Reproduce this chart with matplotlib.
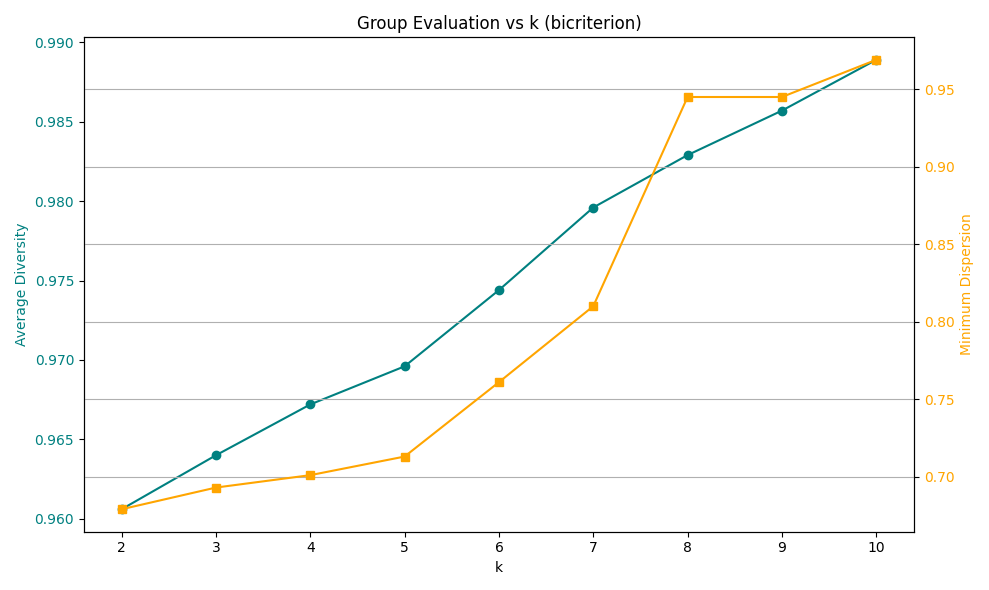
import matplotlib
matplotlib.use("Agg")
import matplotlib.pyplot as plt

k_values = [2, 3, 4, 5, 6, 7, 8, 9, 10]
avg_diversity = [0.9606, 0.9640, 0.9672, 0.9696, 0.9744, 0.9796, 0.9829, 0.9857, 0.9889]
min_dispersion = [0.679, 0.693, 0.701, 0.713, 0.761, 0.810, 0.945, 0.945, 0.969]

fig, ax1 = plt.subplots(figsize=(9.89, 5.9), dpi=100)

ax1.plot(k_values, avg_diversity, marker='o', color='teal')
ax1.set_xlabel('k')
ax1.set_ylabel('Average Diversity', color='teal')
ax1.tick_params(axis='y', labelcolor='teal')

ax2 = ax1.twinx()
ax2.plot(k_values, min_dispersion, marker='s', color='orange')
ax2.set_ylabel('Minimum Dispersion', color='orange')
ax2.tick_params(axis='y', labelcolor='orange')
ax2.grid(True)

plt.title('Group Evaluation vs k (bicriterion)')
fig.tight_layout()
plt.savefig('out.png')
